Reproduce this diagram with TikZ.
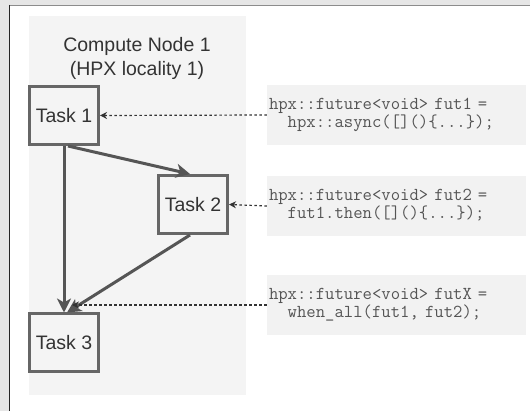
\documentclass[tikz,border=0pt]{standalone}
\usepackage{fontspec}
\setmainfont{Liberation Sans}
\usetikzlibrary{arrows.meta}

\definecolor{windowbg}{HTML}{E6E6E6}
\definecolor{panelfill}{HTML}{F4F4F4}
\definecolor{codefill}{HTML}{F2F2F2}
\definecolor{boxline}{HTML}{666666}
\definecolor{flowline}{HTML}{555555}
\definecolor{labeltext}{HTML}{333333}
\definecolor{codetext}{HTML}{555555}

\tikzset{
  panel/.style={fill=panelfill, draw=none, inner sep=0pt},
  paneltitle/.style={align=center, text=labeltext, inner sep=0pt,
    font=\fontsize{19.5}{24}\selectfont},
  taskbox/.style={draw=boxline, line width=3pt, fill=panelfill,
    minimum width=69pt, minimum height=58pt, inner sep=0pt, text=labeltext,
    font=\fontsize{19.5}{24}\selectfont},
  codebox/.style={fill=codefill, draw=none, minimum width=259pt,
    minimum height=60pt, text width=255pt, inner xsep=2pt, inner ysep=0pt,
    align=left, text=codetext, font=\ttfamily\fontsize{18.2}{18}\selectfont},
  flow/.style={draw=flowline, line width=3pt,
    -{Stealth[length=14pt, width=14pt, inset=4pt]}},
  ref/.style={draw=labeltext, line width=1.2pt, dash pattern=on 2.5pt off 2.5pt,
    -{Stealth[length=7pt, width=7pt]}},
}

\begin{document}
\begin{tikzpicture}[x=1pt, y=-1pt]
  \useasboundingbox (0,0) rectangle (530,411);
  % window background and frame
  \fill[windowbg] (0,0) rectangle (530,411);
  \fill[white] (9,6) rectangle (530,411);
  \draw[color=black!45, line width=1.5pt] (9,5.5) -- (530,5.5);
  \draw[color=black!85, line width=1.2pt] (9.6,5) -- (9.6,411);

  % compute node
  \node[panel, minimum width=217pt, minimum height=379pt] (cn) at (137.5,205.5) {};
  \node[paneltitle] (cnlabel) at (137,58) {Compute Node 1\\(HPX locality 1)};

  % tasks
  \node[taskbox] (t1) at (64,115.5) {Task 1};
  \node[taskbox] (t2) at (193,204.5) {Task 2};
  \node[taskbox] (t3) at (64,343) {Task 3};

  % code snippets
  \node[codebox] (c1) at (396.5,115) {hpx::future<void> fut1 =\\\phantom{hp}hpx::async([]()\{...\});};
  \node[codebox] (c2) at (396.5,206) {hpx::future<void> fut2 =\\\phantom{hp}fut1.then([]()\{...\});};
  \node[codebox] (c3) at (396.5,305) {hpx::future<void> futX =\\\phantom{hp}when\_all(fut1, fut2);};

  % dependencies
  \draw[flow] ([xshift=4pt]t1.south) -- ([xshift=-3pt]t2.north);
  \draw[flow] (t1.south) -- (t3.north);
  \draw[flow] ([xshift=-3pt]t2.south) -- ([xshift=3pt]t3.north);

  % code references
  \coordinate (join) at (72,305);
  \draw[ref] (c1.west) -- (t1.east);
  \draw[ref] (c2.west) -- (t2.east);
  \draw[ref] (c3.west) -- (join);
\end{tikzpicture}
\end{document}
